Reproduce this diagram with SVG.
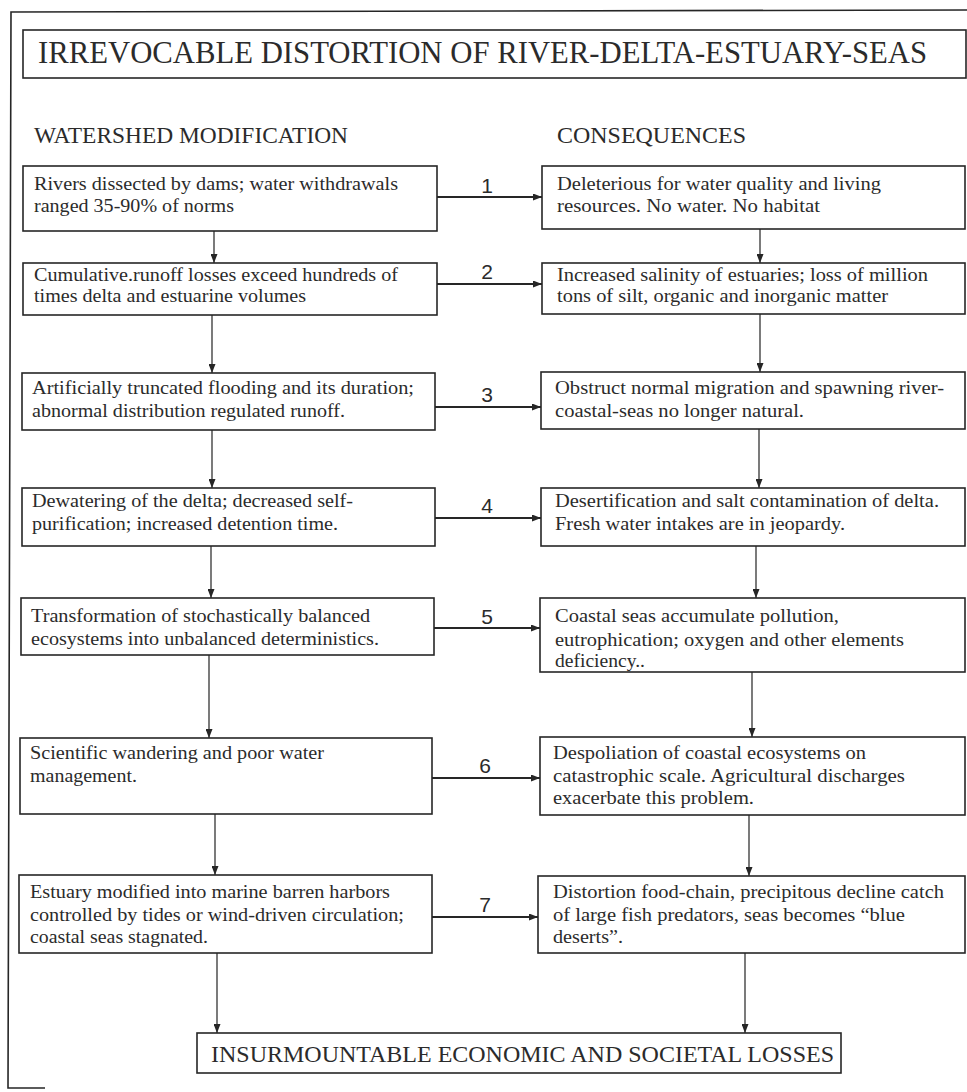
<svg xmlns="http://www.w3.org/2000/svg" width="967" height="1092" viewBox="0 0 967 1092">
<defs>
<style>
.box{fill:#ffffff;stroke:#262626;stroke-width:1.6}
.t{font-family:"Liberation Serif","Times New Roman",serif;font-size:19.5px;fill:#2b2b2b}
.hd{font-family:"Liberation Serif","Times New Roman",serif;font-size:23px;fill:#2b2b2b}
.ttl{font-family:"Liberation Serif","Times New Roman",serif;font-size:30.5px;fill:#2b2b2b}
.num{font-family:"Liberation Sans",Arial,sans-serif;font-size:21px;fill:#2b2b2b;text-anchor:middle}
.h{stroke:#262626;stroke-width:2.2;fill:none}
.v{stroke:#333333;stroke-width:1.3;fill:none}
.frame{stroke:#262626;stroke-width:1.6;fill:none}
</style>
<marker id="ah" markerUnits="userSpaceOnUse" markerWidth="9" markerHeight="7" refX="9" refY="3.5" orient="auto">
<path d="M0,0 L9,3.5 L0,7 Z" fill="#262626"/>
</marker>
</defs>
<rect width="967" height="1092" fill="#ffffff"/>
<g id="frame">
<path class="frame" d="M967,10 L11,12 L8,1088 L45,1088"/>
</g>
<g id="title">
<rect class="box" x="23" y="30" width="943" height="48"/>
<text class="ttl" x="38" y="63" textLength="889" lengthAdjust="spacingAndGlyphs">IRREVOCABLE DISTORTION OF RIVER-DELTA-ESTUARY-SEAS</text>
</g>
<g id="headers">
<text class="hd" x="34" y="143" textLength="314" lengthAdjust="spacingAndGlyphs">WATERSHED MODIFICATION</text>
<text class="hd" x="557" y="143" textLength="189" lengthAdjust="spacingAndGlyphs">CONSEQUENCES</text>
</g>
<g id="connectors">
<line class="h" x1="437" y1="197" x2="542" y2="197" marker-end="url(#ah)"/>
<line class="h" x1="437" y1="284" x2="542" y2="284" marker-end="url(#ah)"/>
<line class="h" x1="435" y1="407" x2="541" y2="407" marker-end="url(#ah)"/>
<line class="h" x1="435" y1="518" x2="541" y2="518" marker-end="url(#ah)"/>
<line class="h" x1="434" y1="628" x2="540" y2="628" marker-end="url(#ah)"/>
<line class="h" x1="432" y1="778" x2="540" y2="778" marker-end="url(#ah)"/>
<line class="h" x1="432" y1="917" x2="538" y2="917" marker-end="url(#ah)"/>
<line class="v" x1="214" y1="231" x2="214" y2="263" marker-end="url(#ah)"/>
<line class="v" x1="212" y1="315" x2="212" y2="373" marker-end="url(#ah)"/>
<line class="v" x1="212" y1="430" x2="212" y2="488" marker-end="url(#ah)"/>
<line class="v" x1="211" y1="546" x2="211" y2="598" marker-end="url(#ah)"/>
<line class="v" x1="209" y1="655" x2="209" y2="738" marker-end="url(#ah)"/>
<line class="v" x1="215" y1="814" x2="215" y2="875" marker-end="url(#ah)"/>
<line class="v" x1="217" y1="953" x2="217" y2="1033" marker-end="url(#ah)"/>
<line class="v" x1="760" y1="229" x2="760" y2="263" marker-end="url(#ah)"/>
<line class="v" x1="760" y1="314" x2="760" y2="372" marker-end="url(#ah)"/>
<line class="v" x1="759" y1="429" x2="759" y2="488" marker-end="url(#ah)"/>
<line class="v" x1="756" y1="546" x2="756" y2="598" marker-end="url(#ah)"/>
<line class="v" x1="752" y1="672" x2="752" y2="737" marker-end="url(#ah)"/>
<line class="v" x1="749" y1="815" x2="749" y2="876" marker-end="url(#ah)"/>
<line class="v" x1="745" y1="953" x2="745" y2="1033" marker-end="url(#ah)"/>
<text class="num" x="487" y="193">1</text>
<text class="num" x="487" y="279">2</text>
<text class="num" x="487" y="402">3</text>
<text class="num" x="487" y="513">4</text>
<text class="num" x="487" y="624">5</text>
<text class="num" x="485" y="773">6</text>
<text class="num" x="485" y="912">7</text>
</g>
<g id="w1">
<rect class="box" x="23" y="166" width="414" height="65"/>
<text class="t" x="34" y="190" textLength="364" lengthAdjust="spacingAndGlyphs">Rivers dissected by dams; water withdrawals</text>
<text class="t" x="34" y="212" textLength="200" lengthAdjust="spacingAndGlyphs">ranged 35-90% of norms</text>
</g>
<g id="c1">
<rect class="box" x="542" y="166" width="423" height="63"/>
<text class="t" x="557" y="190" textLength="324" lengthAdjust="spacingAndGlyphs">Deleterious for water quality and living</text>
<text class="t" x="557" y="212" textLength="263" lengthAdjust="spacingAndGlyphs">resources.  No water. No habitat</text>
</g>
<g id="w2">
<rect class="box" x="23" y="263" width="414" height="52"/>
<text class="t" x="34" y="281" textLength="364" lengthAdjust="spacingAndGlyphs">Cumulative.runoff losses exceed hundreds of</text>
<text class="t" x="34" y="302" textLength="272" lengthAdjust="spacingAndGlyphs">times delta and estuarine volumes</text>
</g>
<g id="c2">
<rect class="box" x="542" y="263" width="423" height="51"/>
<text class="t" x="557" y="281" textLength="371" lengthAdjust="spacingAndGlyphs">Increased salinity of estuaries; loss of million</text>
<text class="t" x="557" y="302" textLength="331" lengthAdjust="spacingAndGlyphs">tons of silt, organic and inorganic matter</text>
</g>
<g id="w3">
<rect class="box" x="22" y="373" width="413" height="57"/>
<text class="t" x="32" y="394" textLength="382" lengthAdjust="spacingAndGlyphs">Artificially truncated flooding and its duration;</text>
<text class="t" x="32" y="417" textLength="313" lengthAdjust="spacingAndGlyphs">abnormal distribution regulated runoff.</text>
</g>
<g id="c3">
<rect class="box" x="541" y="372" width="424" height="57"/>
<text class="t" x="555" y="394" textLength="389" lengthAdjust="spacingAndGlyphs">Obstruct normal migration and spawning river-</text>
<text class="t" x="555" y="417" textLength="249" lengthAdjust="spacingAndGlyphs">coastal-seas no longer natural.</text>
</g>
<g id="w4">
<rect class="box" x="22" y="488" width="413" height="58"/>
<text class="t" x="32" y="507" textLength="321" lengthAdjust="spacingAndGlyphs">Dewatering of the delta; decreased self-</text>
<text class="t" x="32" y="530" textLength="306" lengthAdjust="spacingAndGlyphs">purification; increased detention time.</text>
</g>
<g id="c4">
<rect class="box" x="541" y="488" width="424" height="58"/>
<text class="t" x="555" y="507" textLength="384" lengthAdjust="spacingAndGlyphs">Desertification and salt contamination of delta.</text>
<text class="t" x="555" y="530" textLength="290" lengthAdjust="spacingAndGlyphs">Fresh water intakes are in jeopardy.</text>
</g>
<g id="w5">
<rect class="box" x="21" y="598" width="413" height="57"/>
<text class="t" x="31" y="622" textLength="339" lengthAdjust="spacingAndGlyphs">Transformation of stochastically balanced</text>
<text class="t" x="31" y="645" textLength="348" lengthAdjust="spacingAndGlyphs">ecosystems into unbalanced deterministics.</text>
</g>
<g id="c5">
<rect class="box" x="540" y="598" width="425" height="74"/>
<text class="t" x="555" y="622" textLength="284" lengthAdjust="spacingAndGlyphs">Coastal seas accumulate pollution,</text>
<text class="t" x="555" y="646" textLength="349" lengthAdjust="spacingAndGlyphs">eutrophication; oxygen and other elements</text>
<text class="t" x="555" y="667" textLength="90" lengthAdjust="spacingAndGlyphs">deficiency..</text>
</g>
<g id="w6">
<rect class="box" x="20" y="738" width="412" height="76"/>
<text class="t" x="30" y="759" textLength="294" lengthAdjust="spacingAndGlyphs">Scientific wandering and poor water</text>
<text class="t" x="30" y="782" textLength="107" lengthAdjust="spacingAndGlyphs">management.</text>
</g>
<g id="c6">
<rect class="box" x="540" y="737" width="425" height="78"/>
<text class="t" x="553" y="759" textLength="313" lengthAdjust="spacingAndGlyphs">Despoliation of coastal ecosystems on</text>
<text class="t" x="553" y="782" textLength="352" lengthAdjust="spacingAndGlyphs">catastrophic scale.  Agricultural discharges</text>
<text class="t" x="553" y="804" textLength="201" lengthAdjust="spacingAndGlyphs">exacerbate this problem.</text>
</g>
<g id="w7">
<rect class="box" x="19" y="875" width="413" height="78"/>
<text class="t" x="30" y="898" textLength="360" lengthAdjust="spacingAndGlyphs">Estuary modified into marine barren harbors</text>
<text class="t" x="30" y="921" textLength="374" lengthAdjust="spacingAndGlyphs">controlled by tides or wind-driven circulation;</text>
<text class="t" x="30" y="943" textLength="178" lengthAdjust="spacingAndGlyphs">coastal seas stagnated.</text>
</g>
<g id="c7">
<rect class="box" x="538" y="876" width="427" height="77"/>
<text class="t" x="553" y="898" textLength="391" lengthAdjust="spacingAndGlyphs">Distortion food-chain, precipitous decline catch</text>
<text class="t" x="553" y="921" textLength="352" lengthAdjust="spacingAndGlyphs">of large fish predators, seas becomes “blue</text>
<text class="t" x="553" y="943" textLength="70" lengthAdjust="spacingAndGlyphs">deserts”.</text>
</g>
<g id="losses">
<rect class="box" x="197" y="1033" width="644" height="40"/>
<text class="hd" x="211" y="1062" font-size="22" textLength="623" lengthAdjust="spacingAndGlyphs">INSURMOUNTABLE ECONOMIC AND SOCIETAL LOSSES</text>
</g>
</svg>
